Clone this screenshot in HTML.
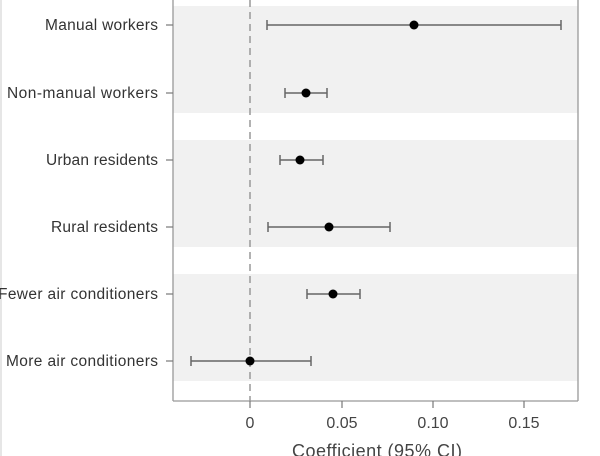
<!DOCTYPE html>
<html><head><style>body{margin:0;background:#fff}svg{display:block}</style></head>
<body>
<svg width="600" height="456" viewBox="0 0 600 456" xmlns="http://www.w3.org/2000/svg" font-family="Liberation Sans, sans-serif">
<rect width="600" height="456" fill="#fff"/>
<line x1="1" y1="0" x2="1" y2="456" stroke="#ccc" stroke-width="1"/>
<rect x="173" y="6" width="405" height="107" fill="#f1f1f1"/>
<rect x="173" y="140" width="405" height="107" fill="#f1f1f1"/>
<rect x="173" y="274" width="405" height="107" fill="#f1f1f1"/>
<g stroke="#999" stroke-width="1.3" fill="none">
<line x1="173" y1="0" x2="173" y2="401"/>
<line x1="578" y1="0" x2="578" y2="401"/>
<line x1="173" y1="401" x2="578" y2="401"/>
</g>
<line x1="250" y1="0" x2="250" y2="401" stroke="#999" stroke-width="1.5" stroke-dasharray="7,5"/>
<g stroke="#777" stroke-width="1.2">
<line x1="166" y1="25" x2="173" y2="25"/>
<line x1="166" y1="93" x2="173" y2="93"/>
<line x1="166" y1="160" x2="173" y2="160"/>
<line x1="166" y1="227" x2="173" y2="227"/>
<line x1="166" y1="294" x2="173" y2="294"/>
<line x1="166" y1="361" x2="173" y2="361"/>
<line x1="250" y1="401" x2="250" y2="408"/>
<line x1="342" y1="401" x2="342" y2="408"/>
<line x1="433" y1="401" x2="433" y2="408"/>
<line x1="524" y1="401" x2="524" y2="408"/>
</g>
<g fill="#333" font-size="15.5" text-anchor="end">
<text x="158" y="30" textLength="113">Manual workers</text>
<text x="158" y="98" textLength="151">Non-manual workers</text>
<text x="158" y="165" textLength="112">Urban residents</text>
<text x="158" y="232" textLength="107">Rural residents</text>
<text x="158" y="299" textLength="160">Fewer air conditioners</text>
<text x="158" y="366" textLength="152">More air conditioners</text>
</g>
<g fill="#444" font-size="16" text-anchor="middle">
<text x="250" y="428">0</text>
<text x="342" y="428">0.05</text>
<text x="433" y="428">0.10</text>
<text x="524" y="428">0.15</text>
<text x="377" y="457" font-size="18" textLength="170">Coefficient (95% CI)</text>
</g>
<g stroke="#666" stroke-width="1.5">
<line x1="267" y1="25" x2="561" y2="25"/><line x1="267" y1="20" x2="267" y2="30"/><line x1="561" y1="20" x2="561" y2="30"/>
<line x1="285" y1="93" x2="327" y2="93"/><line x1="285" y1="88" x2="285" y2="98"/><line x1="327" y1="88" x2="327" y2="98"/>
<line x1="280" y1="160" x2="323" y2="160"/><line x1="280" y1="155" x2="280" y2="165"/><line x1="323" y1="155" x2="323" y2="165"/>
<line x1="268" y1="227" x2="390" y2="227"/><line x1="268" y1="222" x2="268" y2="232"/><line x1="390" y1="222" x2="390" y2="232"/>
<line x1="307" y1="294" x2="360" y2="294"/><line x1="307" y1="289" x2="307" y2="299"/><line x1="360" y1="289" x2="360" y2="299"/>
<line x1="191" y1="361" x2="311" y2="361"/><line x1="191" y1="356" x2="191" y2="366"/><line x1="311" y1="356" x2="311" y2="366"/>
</g>
<g fill="#000">
<circle cx="414" cy="25" r="4.5"/>
<circle cx="306" cy="93" r="4.5"/>
<circle cx="300" cy="160" r="4.5"/>
<circle cx="329" cy="227" r="4.5"/>
<circle cx="333" cy="294" r="4.5"/>
<circle cx="250" cy="361" r="4.5"/>
</g>
</svg>
</body></html>
